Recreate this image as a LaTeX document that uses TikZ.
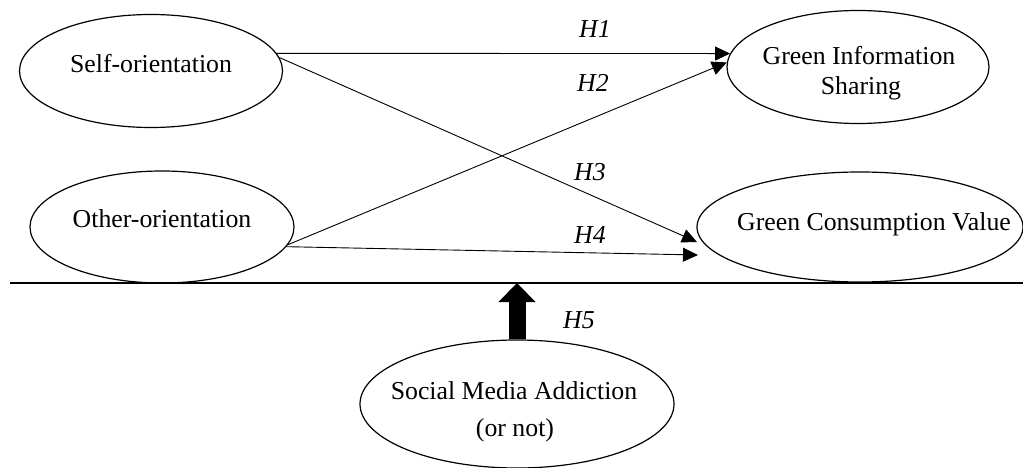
\documentclass[tikz,border=0pt]{standalone}
\usepackage{fontspec}
\setmainfont{Liberation Serif}
\usetikzlibrary{arrows.meta,shapes.geometric}
\begin{document}
\begin{tikzpicture}[x=1pt,y=-1pt,
  oval/.style={draw,ellipse,line width=1.2pt,inner sep=0pt,minimum width=#1},
  lbl/.style={anchor=base,inner sep=0pt,font=\fontsize{25.8}{30}\selectfont},
  hyp/.style={anchor=base,inner sep=0pt,font=\fontsize{25.8}{30}\selectfont\itshape},
  conn/.style={line width=0.9pt,-{Triangle[length=15pt,width=14pt]}}]
\useasboundingbox (0,0) rectangle (1023,468);
% ellipses
\node[oval=263pt,minimum height=113pt] (self) at (151,71) {};
\node[oval=264pt,minimum height=112pt] (other) at (162,227) {};
\node[oval=262pt,minimum height=113pt] (gis) at (858,67) {};
\node[oval=326pt,minimum height=110pt] (gcv) at (860,227) {};
\node[oval=314pt,minimum height=128pt] (sma) at (517,404) {};
% texts
\node[lbl] (tself) at (151,73) {Self-orientation};
\node[lbl] (tother) at (162,227) {Other-orientation};
\node[lbl] (tgis1) at (859,65) {Green Information};
\node[lbl] (tgis2) at (861,95) {Sharing};
\node[lbl] (tgcv) at (874,230) {Green Consumption Value};
\node[lbl] (tsma1) at (514,399) {Social Media Addiction};
\node[lbl] (tsma2) at (515,436) {(or not)};
% hypothesis labels
\node[hyp] (h1) at (595,38) {H1};
\node[hyp] (h2) at (593,92) {H2};
\node[hyp] (h3) at (590,180) {H3};
\node[hyp] (h4) at (590,243) {H4};
\node[hyp] (h5) at (579,328) {H5};
% coordinates
\coordinate (h3end) at (697,242);
\coordinate (h4end) at (698,255);
\coordinate (lineL) at (10,283);
\coordinate (lineR) at (1023,283);
% connectors
\draw[conn] (self.8) -- (gis.174);
\draw[conn] (other.-8) -- (gis.178);
\draw[conn] (self.6) -- (h3end);
\draw[conn] (other.-9) -- (h4end);
% moderator line and thick arrow
\draw[line width=2.2pt] (lineL) -- (lineR);
\draw[line width=17pt,-{Triangle[length=19pt,width=36pt]}] (sma.north) -- (sma.north |- lineL);
\end{tikzpicture}
\end{document}
